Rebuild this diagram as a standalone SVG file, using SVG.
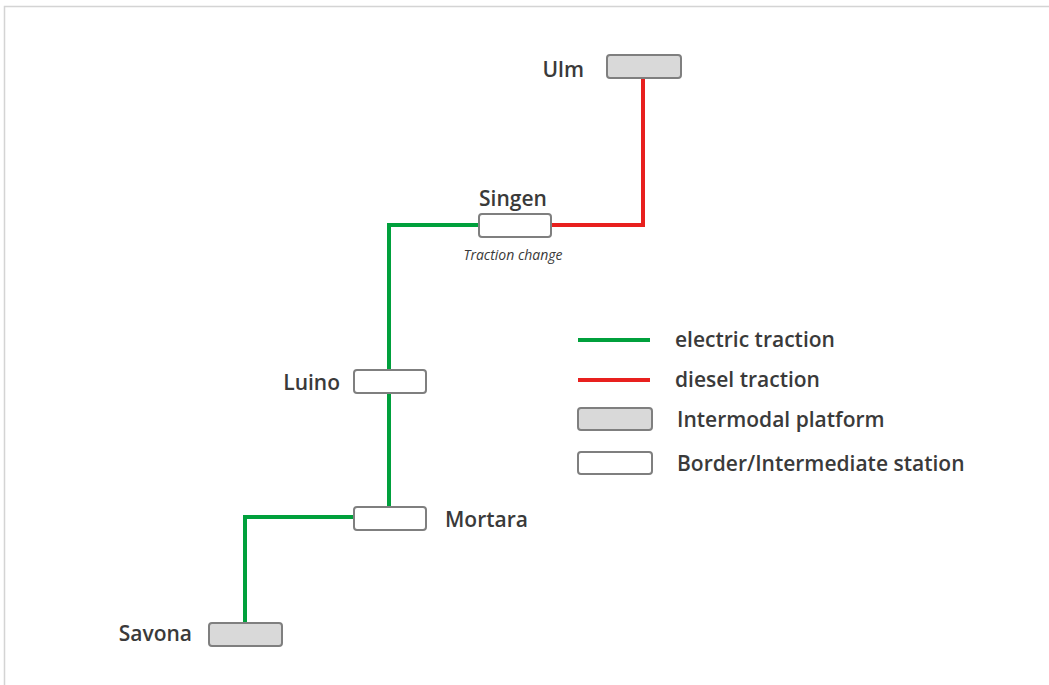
<svg xmlns="http://www.w3.org/2000/svg" width="1049" height="685" viewBox="0 0 1049 685">
<style>
.lbl{font-family:"Open Sans","Liberation Sans",sans-serif;font-size:21px;font-weight:600;fill:#3a3a3a}
.small{font-family:"Open Sans","Liberation Sans",sans-serif;font-size:14px;font-style:italic;fill:#3a3a3a}
.plat{fill:#d9d9d9;stroke:#7f7f7f;stroke-width:2}
.stat{fill:#ffffff;stroke:#7f7f7f;stroke-width:2}
.el{fill:none;stroke:#00a03c;stroke-width:4}
.di{fill:none;stroke:#e8201e;stroke-width:4}
</style>
<rect x="0" y="0" width="1049" height="685" fill="#ffffff"/>
<path d="M4.5 685 V6.5 H1049" fill="none" stroke="#d4d4d4" stroke-width="1.5"/>
<g id="connectors">
<path class="di" d="M643 79 V225 H552"/>
<path class="el" d="M478 225 H389 V506"/>
<path class="el" d="M353 517 H245 V622"/>
</g>
<g id="ulm">
<rect class="plat" x="607" y="55" width="74" height="23" rx="3"/>
<text class="lbl" x="584" y="77" text-anchor="end">Ulm</text>
</g>
<g id="singen">
<rect class="stat" x="479" y="214" width="72" height="23" rx="3"/>
<text class="lbl" x="513" y="206" text-anchor="middle">Singen</text>
<text class="small" x="513" y="260" text-anchor="middle">Traction change</text>
</g>
<g id="luino">
<rect class="stat" x="354" y="370" width="72" height="23" rx="3"/>
<text class="lbl" x="340" y="390" text-anchor="end">Luino</text>
</g>
<g id="mortara">
<rect class="stat" x="354" y="507" width="72" height="23" rx="3"/>
<text class="lbl" x="445" y="527">Mortara</text>
</g>
<g id="savona">
<rect class="plat" x="209" y="623" width="73" height="23" rx="3"/>
<text class="lbl" x="192" y="641" text-anchor="end">Savona</text>
</g>
<g id="legend">
<line class="el" x1="578" y1="340" x2="650" y2="340"/>
<text class="lbl" x="675" y="347">electric traction</text>
<line class="di" x1="578" y1="380" x2="650" y2="380"/>
<text class="lbl" x="675" y="387">diesel traction</text>
<rect class="plat" x="578" y="408" width="74" height="22" rx="3"/>
<text class="lbl" x="677" y="427">Intermodal platform</text>
<rect class="stat" x="578" y="452" width="74" height="22" rx="3"/>
<text class="lbl" x="677" y="471">Border/Intermediate station</text>
</g>
</svg>
